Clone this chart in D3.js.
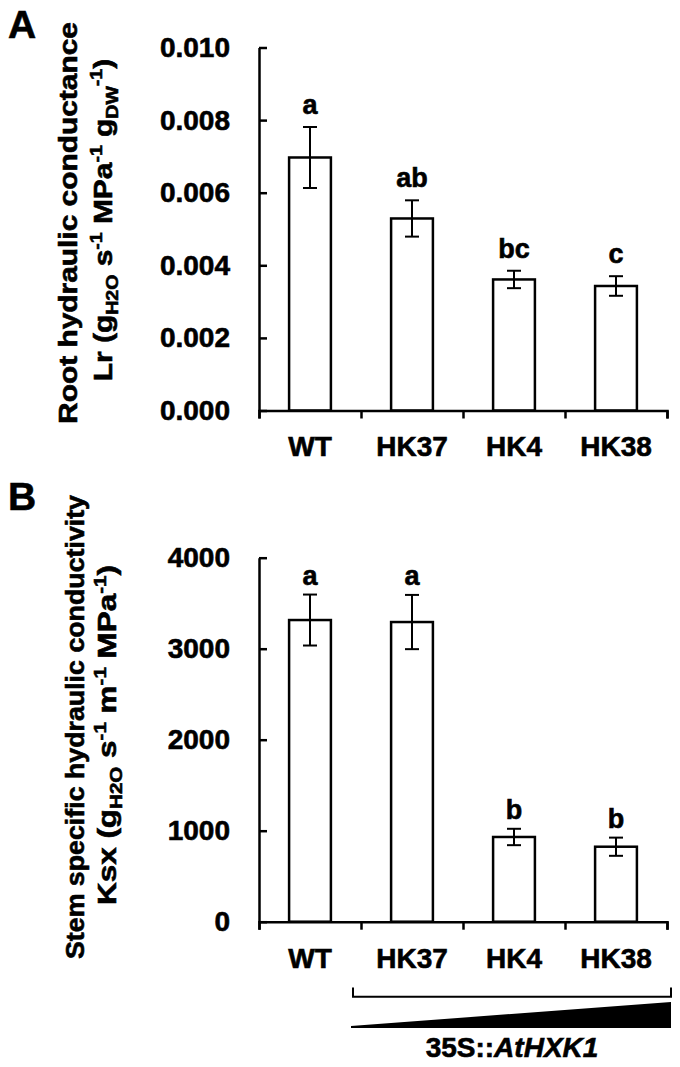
<!DOCTYPE html>
<html>
<head>
<meta charset="utf-8">
<script src="https://cdn.jsdelivr.net/npm/d3@7"></script>
<style>
  body { margin: 0; background: #fff; }
  svg { display: block; font-family: "Liberation Sans", Arial, Helvetica, sans-serif; font-weight: bold; }
  svg text { stroke: #000; stroke-width: 0.6px; }
</style>
</head>
<body>
<div id="chart"></div>
<script>
const width = 680;
const height = 1067;

// data
const lines = ["WT", "HK37", "HK4", "HK38"];
const rootMeans = [0.00697, 0.00529, 0.00361, 0.00343];
const rootErrors = [0.00084, 0.00050, 0.00024, 0.00027];
const rootLetters = ["a", "ab", "bc", "c"];
const rootTicks = [0, 0.002, 0.004, 0.006, 0.008, 0.010];

const stemMeans = [3315, 3293, 931, 824];
const stemErrors = [280, 298, 90, 100];
const stemLetters = ["a", "a", "b", "b"];
const stemTicks = [0, 1000, 2000, 3000, 4000];

const svg = d3.select("#chart")
    .append("svg")
    .attr("width", width)
    .attr("height", height);

svg.append("rect").attr("width", width).attr("height", height).attr("fill", "#fff");

const x = d3.scaleBand()
    .domain(lines)
    .range([259, 667])
    .padding(0);

const barWidth = x.bandwidth() * 0.41;

// boundary scale for the x-axis ticks between groups
const xEdges = d3.scaleLinear().domain([0, lines.length]).range(x.range());

function drawPanel(opts) {
    const { means, errors, letters, ticks, y, fmt, letterGap, label, labelY } = opts;
    const rows = lines.map((name, i) => ({ name, mean: means[i], err: errors[i], letter: letters[i] }));
    const base = y.range()[0];

    svg.append("text")
        .attr("x", 8)
        .attr("y", labelY)
        .style("font-size", "39px")
        .text(label);

    const yAxis = svg.append("g")
        .attr("transform", `translate(${x.range()[0]},0)`)
        .call(d3.axisLeft(y).tickValues(ticks).tickFormat(fmt)
            .tickSizeInner(-8).tickSizeOuter(0).tickPadding(29));
    yAxis.selectAll("text")
        .style("font-size", "28px")
        .style("font-family", "Liberation Sans, Arial, sans-serif")
        .style("font-weight", "bold")
        .attr("fill", "#000");

    const bars = svg.append("g");
    bars.selectAll("rect")
        .data(rows)
        .join("rect")
        .attr("x", d => x(d.name) + x.bandwidth() / 2 - barWidth / 2)
        .attr("y", d => y(d.mean))
        .attr("width", barWidth)
        .attr("height", d => base - y(d.mean))
        .attr("fill", "#fff")
        .attr("stroke", "#000")
        .attr("stroke-width", 2.5);

    const err = svg.append("g").attr("stroke", "#000").attr("stroke-width", 2);
    rows.forEach(d => {
        const cx = x(d.name) + x.bandwidth() / 2;
        err.append("line").attr("x1", cx).attr("x2", cx)
            .attr("y1", y(d.mean + d.err)).attr("y2", y(d.mean - d.err));
        err.append("line").attr("x1", cx - 7).attr("x2", cx + 7)
            .attr("y1", y(d.mean + d.err)).attr("y2", y(d.mean + d.err));
        err.append("line").attr("x1", cx - 7).attr("x2", cx + 7)
            .attr("y1", y(d.mean - d.err)).attr("y2", y(d.mean - d.err));
    });

    svg.append("g").selectAll("text")
        .data(rows)
        .join("text")
        .attr("x", d => x(d.name) + x.bandwidth() / 2)
        .attr("y", d => y(d.mean + d.err) - letterGap)
        .attr("text-anchor", "middle")
        .style("font-size", "27px")
        .text(d => d.letter);

    const xAxis = svg.append("g")
        .attr("transform", `translate(0,${base})`)
        .call(d3.axisBottom(xEdges).ticks(lines.length).tickFormat("")
            .tickSizeInner(8).tickSizeOuter(8));

    const xLabels = svg.append("g")
        .attr("transform", `translate(0,${base})`)
        .call(d3.axisBottom(x).tickSize(0).tickPadding(26));
    xLabels.select(".domain").remove();
    xLabels.selectAll("text")
        .style("font-size", "28px")
        .style("font-family", "Liberation Sans, Arial, sans-serif")
        .style("font-weight", "bold")
        .attr("fill", "#000");

    [yAxis, xAxis].forEach(g => {
        g.selectAll(".domain, .tick line").attr("stroke", "#000").attr("stroke-width", 2.5);
    });
}

// rotated axis title built from plain/sub/sup pieces
function yTitle(bx, cy, stretch, pieces) {
    const t = svg.append("text")
        .attr("transform", `translate(${bx},${cy}) rotate(-90) scale(${stretch},1)`)
        .attr("text-anchor", "middle")
        .style("font-size", "26px");
    let shift = 0;
    pieces.forEach(([s, kind]) => {
        const target = kind === "sub" ? 6 : kind === "sup" ? -10 : 0;
        t.append("tspan")
            .attr("dy", target - shift)
            .style("font-size", kind ? "17px" : "26px")
            .text(s);
        shift = target;
    });
}

drawPanel({
    means: rootMeans, errors: rootErrors, letters: rootLetters, ticks: rootTicks,
    y: d3.scaleLinear().domain([0, 0.010]).range([410.5, 47.5]),
    fmt: d3.format(".3f"), letterGap: 13, label: "A", labelY: 38
});

drawPanel({
    means: stemMeans, errors: stemErrors, letters: stemLetters, ticks: stemTicks,
    y: d3.scaleLinear().domain([0, 4000]).range([921.7, 557.7]),
    fmt: d3.format("d"), letterGap: 10, label: "B", labelY: 510
});

yTitle(77, 223, 1.15, [["Root hydraulic conductance"]]);
yTitle(112, 220, 1.15, [["Lr (g"], ["H2O", "sub"], [" s"], ["-1", "sup"], [" MPa"], ["-1", "sup"],
    [" g"], ["DW", "sub"], ["-1", "sup"], [")"]]);

yTitle(84, 727, 1.03, [["Stem specific hydraulic conductivity"]]);
yTitle(116, 735, 1.21, [["Ksx (g"], ["H2O", "sub"], ["  s"], ["-1", "sup"], [" m"], ["-1", "sup"],
    [" MPa"], ["-1", "sup"], [")"]]);

// bracket and gradient wedge under the transgenic lines
const bl = x("HK37") - 8;
const br = x.range()[1] + 4;
svg.append("path")
    .attr("d", `M${bl},987.5 V996.7 H${br} V987.5`)
    .attr("fill", "none")
    .attr("stroke", "#000")
    .attr("stroke-width", 2);

svg.append("path")
    .attr("d", `M${bl - 2},1028 L${bl - 2},1026 L${br},1002 L${br},1028 Z`)
    .attr("fill", "#000");

const geneLabel = svg.append("text")
    .attr("x", (bl + br) / 2)
    .attr("y", 1057)
    .attr("text-anchor", "middle")
    .style("font-size", "28px");
geneLabel.append("tspan").text("35S::");
geneLabel.append("tspan").style("font-style", "italic").text("AtHXK1");
</script>
</body>
</html>
